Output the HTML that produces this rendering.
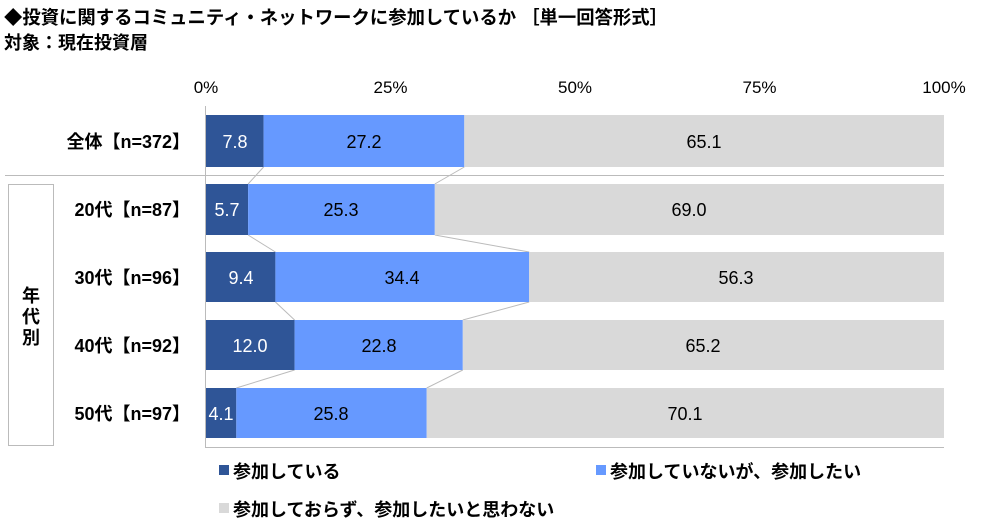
<!DOCTYPE html><html><head><meta charset="utf-8"><style>body{margin:0;background:#fff}svg{display:block;font-family:"Liberation Sans","Noto Sans CJK JP",sans-serif}</style></head><body>
<svg width="1000" height="529" viewBox="0 0 1000 529">
<text x="4" y="24" font-size="18.5" font-weight="bold" textLength="664" lengthAdjust="spacingAndGlyphs">◆投資に関するコミュニティ・ネットワークに参加しているか ［単一回答形式］</text>
<text x="4" y="49" font-size="18" font-weight="bold">対象：現在投資層</text>
<g font-size="17" text-anchor="middle" fill="#000">
<text x="206" y="93">0%</text><text x="390.5" y="93">25%</text><text x="575" y="93">50%</text><text x="759.5" y="93">75%</text><text x="944" y="93">100%</text></g>
<g stroke="#bbb" stroke-width="1" fill="none">
<line x1="205.5" y1="106" x2="205.5" y2="447"/><line x1="205" y1="447.5" x2="944" y2="447.5"/>
<line x1="5" y1="175.5" x2="944" y2="175.5"/>
<rect x="8.5" y="184.5" width="45" height="261"/>
<line x1="263.6" y1="167" x2="248.1" y2="184"/><line x1="464.3" y1="167" x2="434.8" y2="184"/>
<line x1="248.1" y1="235" x2="275.4" y2="252"/><line x1="434.8" y1="235" x2="529.2" y2="252"/>
<line x1="275.4" y1="302" x2="294.6" y2="320"/><line x1="529.2" y1="302" x2="462.8" y2="320"/>
<line x1="294.6" y1="370" x2="236.3" y2="388"/><line x1="462.8" y1="370" x2="426.7" y2="388"/>
</g>
<g>
<rect x="206" y="115" width="57.6" height="52" fill="#2f5597"/><rect x="263.6" y="115" width="200.7" height="52" fill="#6699ff"/><rect x="464.3" y="115" width="479.7" height="52" fill="#d9d9d9"/>
<rect x="206" y="184" width="42.1" height="51" fill="#2f5597"/><rect x="248.1" y="184" width="186.7" height="51" fill="#6699ff"/><rect x="434.8" y="184" width="509.2" height="51" fill="#d9d9d9"/>
<rect x="206" y="252" width="69.4" height="50" fill="#2f5597"/><rect x="275.4" y="252" width="253.8" height="50" fill="#6699ff"/><rect x="529.2" y="252" width="414.8" height="50" fill="#d9d9d9"/>
<rect x="206" y="320" width="88.6" height="50" fill="#2f5597"/><rect x="294.6" y="320" width="168.2" height="50" fill="#6699ff"/><rect x="462.8" y="320" width="481.2" height="50" fill="#d9d9d9"/>
<rect x="206" y="388" width="30.3" height="50" fill="#2f5597"/><rect x="236.3" y="388" width="190.4" height="50" fill="#6699ff"/><rect x="426.7" y="388" width="517.3" height="50" fill="#d9d9d9"/>
</g>
<g font-size="18" text-anchor="middle">
<g fill="#fff"><text x="235" y="148">7.8</text><text x="227" y="216">5.7</text><text x="241" y="284">9.4</text><text x="250" y="352">12.0</text><text x="221" y="420">4.1</text></g>
<text x="364" y="148">27.2</text><text x="704" y="148">65.1</text>
<text x="341" y="216">25.3</text><text x="689" y="216">69.0</text>
<text x="402" y="284">34.4</text><text x="736" y="284">56.3</text>
<text x="379" y="352">22.8</text><text x="703" y="352">65.2</text>
<text x="331" y="420">25.8</text><text x="685" y="420">70.1</text>
</g>
<g font-size="18" font-weight="bold" text-anchor="end">
<text x="190" y="148">全体【n=372】</text><text x="190" y="216">20代【n=87】</text><text x="190" y="284">30代【n=96】</text><text x="190" y="352">40代【n=92】</text><text x="190" y="420">50代【n=97】</text>
</g>
<g font-size="18" font-weight="bold" text-anchor="middle"><text x="31" y="302">年</text><text x="31" y="323">代</text><text x="31" y="344">別</text></g>
<g font-size="18" font-weight="bold">
<rect x="219" y="465" width="10" height="10" fill="#2f5597"/><text x="233" y="478">参加している</text>
<rect x="596" y="465" width="10" height="10" fill="#6699ff"/><text x="610" y="478">参加していないが、参加したい</text>
<rect x="219" y="503" width="10" height="10" fill="#d9d9d9"/><text x="233" y="516">参加しておらず、参加したいと思わない</text>
</g>
</svg></body></html>
